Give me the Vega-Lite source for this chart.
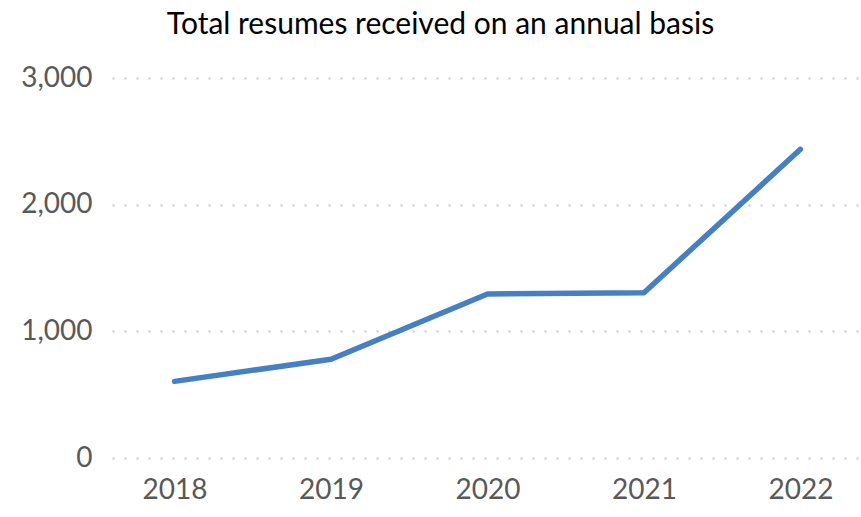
{
  "$schema": "https://vega.github.io/schema/vega-lite/v6.json",
  "width": 751,
  "height": 380,
  "autosize": {"type": "none"},
  "padding": {"left": 112, "top": 78, "right": 0, "bottom": 59},
  "background": "#ffffff",
  "title": {
    "text": "Total resumes received on an annual basis",
    "anchor": "middle",
    "dx": -47,
    "offset": 24,
    "font": "Lato",
    "fontSize": 30,
    "fontWeight": "normal",
    "color": "#000000"
  },
  "data": {
    "values": [
      {"year": "2018", "resumes": 605},
      {"year": "2019", "resumes": 780},
      {"year": "2020", "resumes": 1295},
      {"year": "2021", "resumes": 1305},
      {"year": "2022", "resumes": 2437}
    ]
  },
  "mark": {"type": "line", "color": "#4680C2", "strokeWidth": 5.5, "strokeCap": "round", "strokeJoin": "round"},
  "encoding": {
    "x": {
      "field": "year",
      "type": "ordinal",
      "scale": {"type": "point", "padding": 0.4},
      "axis": {
        "title": null,
        "labelAngle": 0,
        "labelPadding": 18,
        "ticks": false,
        "domain": false,
        "grid": false,
        "labelFont": "Lato",
        "labelFontSize": 28,
        "labelColor": "#595959"
      }
    },
    "y": {
      "field": "resumes",
      "type": "quantitative",
      "scale": {"domain": [0, 3000], "nice": false},
      "axis": {
        "title": null,
        "values": [0, 1000, 2000, 3000],
        "format": ",.0f",
        "labelPadding": 20,
        "ticks": false,
        "domain": false,
        "grid": true,
        "gridDash": [2, 10],
        "gridColor": "#c8c8c8",
        "gridWidth": 2,
        "labelFont": "Lato",
        "labelFontSize": 28,
        "labelColor": "#595959"
      }
    }
  },
  "config": {"view": {"stroke": null}}
}
